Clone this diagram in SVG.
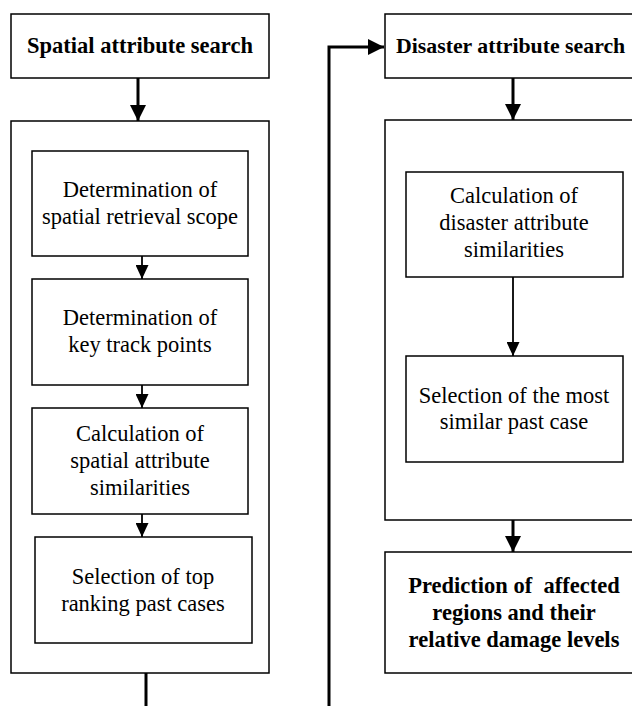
<svg xmlns="http://www.w3.org/2000/svg" width="632" height="706" viewBox="0 0 632 706">
<style>
.box{fill:#fff;stroke:#000;stroke-width:1.5}
.t{font-family:"Liberation Serif","Times New Roman",serif;font-size:22.5px;fill:#000;text-anchor:middle;white-space:pre}
.b{font-weight:bold}
.thick{fill:none;stroke:#000;stroke-width:3}
.thin{fill:none;stroke:#000;stroke-width:1.8}
</style>
<defs>
<marker id="big" markerUnits="userSpaceOnUse" markerWidth="16" markerHeight="16" refX="16" refY="8" orient="auto"><path d="M0,0 L16,8 L0,16 z" fill="#000"/></marker>
<marker id="small" markerUnits="userSpaceOnUse" markerWidth="14" markerHeight="13" refX="14" refY="6.5" orient="auto"><path d="M0,0 L14,6.5 L0,13 z" fill="#000"/></marker>
</defs>
<g id="spatial-search"><rect class="box" x="11" y="14" width="258" height="64"/><text class="t b" x="140" y="53">Spatial attribute search</text></g>
<g id="spatial-container"><rect class="box" x="11" y="121" width="258" height="552"/></g>
<g id="scope"><rect class="box" x="32" y="151" width="216" height="105"/><text class="t" x="140" y="197">Determination of</text><text class="t" x="140" y="224">spatial retrieval scope</text></g>
<g id="keypoints"><rect class="box" x="32" y="279" width="216" height="106"/><text class="t" x="140" y="325">Determination of</text><text class="t" x="140" y="352">key track points</text></g>
<g id="spatial-sim"><rect class="box" x="32" y="408" width="216" height="106"/><text class="t" x="140" y="441">Calculation of</text><text class="t" x="140" y="468">spatial attribute</text><text class="t" x="140" y="495">similarities</text></g>
<g id="top-ranking"><rect class="box" x="35" y="537" width="217" height="106"/><text class="t" x="143" y="584">Selection of top</text><text class="t" x="143" y="611">ranking past cases</text></g>
<g id="disaster-search"><rect class="box" x="385" y="14" width="265" height="64"/><text class="t b" x="396" y="53" style="text-anchor:start;font-size:21.8px">Disaster attribute search</text></g>
<g id="disaster-container"><rect class="box" x="385" y="120" width="265" height="400"/></g>
<g id="disaster-sim"><rect class="box" x="406" y="172" width="217" height="105"/><text class="t" x="514" y="203">Calculation of</text><text class="t" x="514" y="230">disaster attribute</text><text class="t" x="514" y="257">similarities</text></g>
<g id="most-similar"><rect class="box" x="406" y="356" width="217" height="106"/><text class="t" x="514" y="403">Selection of the most</text><text class="t" x="514" y="429">similar past case</text></g>
<g id="prediction"><rect class="box" x="385" y="552" width="265" height="121"/><text class="t b" x="514" y="593">Prediction of  affected</text><text class="t b" x="514" y="620">regions and their</text><text class="t b" x="514" y="647">relative damage levels</text></g>
<g id="connectors">
<line class="thick" x1="138" y1="78" x2="138" y2="121" marker-end="url(#big)"/>
<line class="thin" x1="142" y1="256" x2="142" y2="279" marker-end="url(#small)"/>
<line class="thin" x1="142" y1="385" x2="142" y2="408" marker-end="url(#small)"/>
<line class="thin" x1="142" y1="514" x2="142" y2="537" marker-end="url(#small)"/>
<line class="thick" x1="146" y1="673" x2="146" y2="710"/>
<polyline class="thick" points="329,710 329,47 384,47" marker-end="url(#big)"/>
<line class="thick" x1="513" y1="78" x2="513" y2="120" marker-end="url(#big)"/>
<line class="thin" x1="513" y1="277" x2="513" y2="356" marker-end="url(#small)"/>
<line class="thick" x1="513" y1="520" x2="513" y2="552" marker-end="url(#big)"/>
</g>
</svg>
